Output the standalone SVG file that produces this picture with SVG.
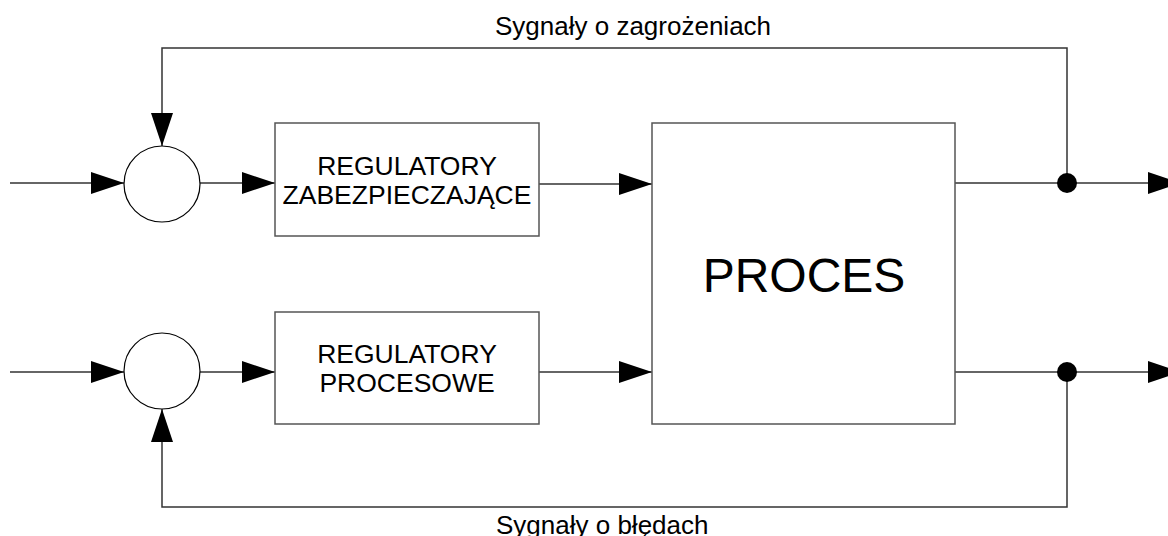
<svg xmlns="http://www.w3.org/2000/svg" width="1168" height="536" viewBox="0 0 1168 536">
  <defs>
    <style>
      .wire { fill: none; stroke: #333; stroke-width: 1.5; }
      .box { fill: #fff; stroke: #555; stroke-width: 1.5; }
      .sum { fill: #fff; stroke: #000; stroke-width: 1.2; }
      .head { fill: #000; }
      .dot { fill: #000; }
      .lbl { font-family: "Liberation Sans", Arial, sans-serif; fill: #000; }
      .blk { font-size: 26.5px; text-anchor: middle; }
      .sig { font-size: 26px; }
    </style>
    <marker id="arrow" viewBox="0 0 33 22" refX="33" refY="11" markerWidth="33" markerHeight="22" markerUnits="userSpaceOnUse" orient="auto">
      <path class="head" d="M0,0 L33,11 L0,22 Z"/>
    </marker>
  </defs>

  <rect width="1168" height="536" fill="#fff"/>

  <!-- connectors -->
  <g id="connectors">
    <!-- inputs to summing junctions -->
    <line class="wire" x1="10" y1="183" x2="124" y2="183" marker-end="url(#arrow)"/>
    <line class="wire" x1="10" y1="372" x2="124" y2="372" marker-end="url(#arrow)"/>
    <!-- junctions to controllers -->
    <line class="wire" x1="200" y1="183" x2="275" y2="183" marker-end="url(#arrow)"/>
    <line class="wire" x1="200" y1="372" x2="275" y2="372" marker-end="url(#arrow)"/>
    <!-- controllers to process -->
    <line class="wire" x1="539" y1="184" x2="652" y2="184" marker-end="url(#arrow)"/>
    <line class="wire" x1="539" y1="372" x2="652" y2="372" marker-end="url(#arrow)"/>
    <!-- process outputs -->
    <line class="wire" x1="955" y1="183" x2="1181" y2="183" marker-end="url(#arrow)"/>
    <line class="wire" x1="955" y1="372" x2="1181" y2="372" marker-end="url(#arrow)"/>
    <!-- hazard-signal feedback -->
    <polyline class="wire" points="1067,183 1067,48 162,48 162,146" marker-end="url(#arrow)"/>
    <!-- error feedback -->
    <polyline class="wire" points="1067,372 1067,507 162,507 162,409" marker-end="url(#arrow)"/>
    <circle class="dot" cx="1067" cy="183" r="10"/>
    <circle class="dot" cx="1067" cy="372" r="10"/>
  </g>

  <g id="sum-top">
    <circle class="sum" cx="162" cy="184" r="38"/>
  </g>
  <g id="sum-bottom">
    <circle class="sum" cx="162" cy="371" r="38"/>
  </g>

  <g id="reg-safety">
    <rect class="box" x="275" y="123" width="264" height="113"/>
    <text class="lbl blk" x="407" y="175">REGULATORY</text>
    <text class="lbl blk" x="407" y="204">ZABEZPIECZAJĄCE</text>
  </g>

  <g id="reg-process">
    <rect class="box" x="275" y="312" width="264" height="112"/>
    <text class="lbl blk" x="407" y="363">REGULATORY</text>
    <text class="lbl blk" x="407" y="392">PROCESOWE</text>
  </g>

  <g id="process">
    <rect class="box" x="652" y="123" width="303" height="301"/>
    <text class="lbl" x="804" y="292" font-size="48" text-anchor="middle">PROCES</text>
  </g>

  <g id="labels">
    <text class="lbl sig" x="495" y="35">Sygnały o zagrożeniach</text>
    <text class="lbl sig" x="496" y="534">Sygnały o błędach</text>
  </g>
</svg>
